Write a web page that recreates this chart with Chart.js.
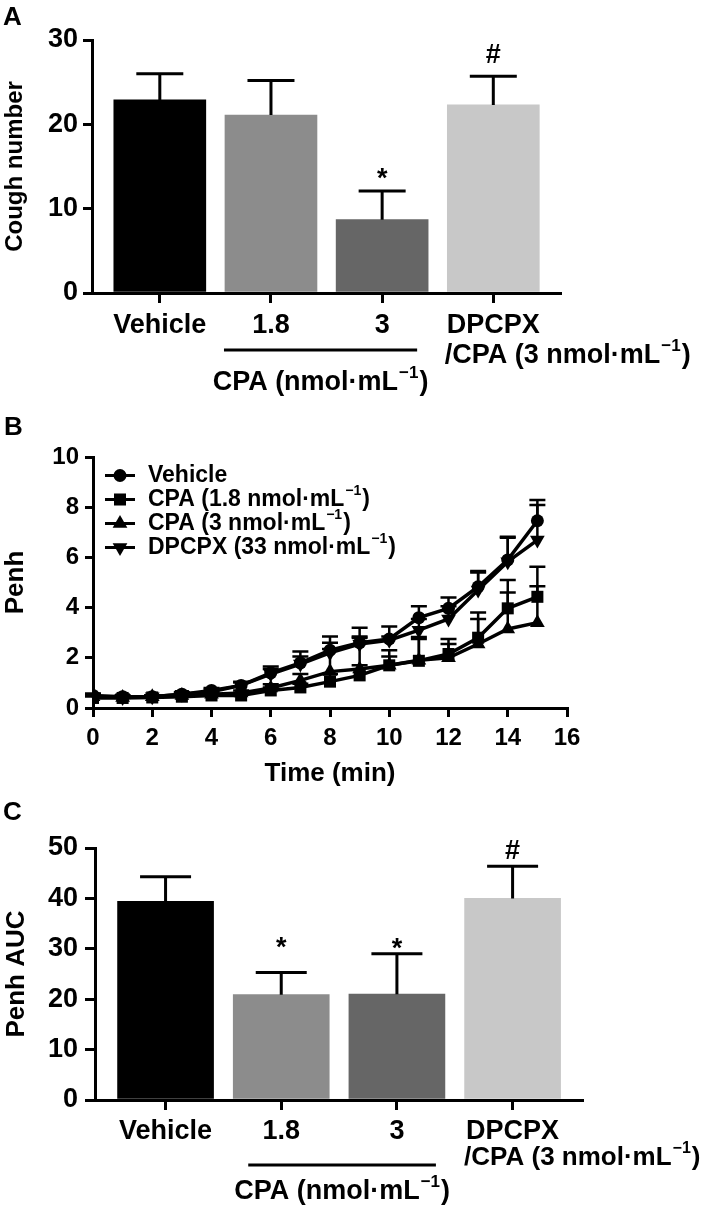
<!DOCTYPE html>
<html>
<head>
<meta charset="utf-8">
<script src="https://cdn.jsdelivr.net/npm/chart.js@4.4.1/dist/chart.umd.min.js"></script>
<style>
  html, body { margin: 0; padding: 0; background: #fff; }
  canvas { position: absolute; left: 0; }
</style>
</head>
<body>
<canvas id="chartA" width="709" height="400" style="top:0"></canvas>
<canvas id="chartB" width="709" height="400" style="top:400px"></canvas>
<canvas id="chartC" width="709" height="425" style="top:800px"></canvas>
<script>
// panel A and C: bar groups
const groups = ['Vehicle', '1.8', '3', 'DPCPX'];
const groupSub = ['', '', '', '/CPA (3 nmol·mL⁻¹)'];
const groupName = 'CPA (nmol·mL⁻¹)';
const barColors = ['#000000', '#8c8c8c', '#666666', '#c8c8c8'];

const coughMean = [22.9, 21.1, 8.7, 22.3];
const coughSem = [3.1, 4.1, 3.4, 3.4];
const coughSig = ['', '', '*', '#'];
const coughSigAt = [null, null, 14.4, 28.4];

const aucMean = [39.4, 20.9, 21.0, 40.0];
const aucSem = [4.9, 4.4, 8.0, 6.4];
const aucSig = ['', '*', '*', '#'];
const aucSigAt = [null, 31.6, 31.5, 49.8];

// panel B: Penh over time
const minutes = [0, 1, 2, 3, 4, 5, 6, 7, 8, 9, 10, 11, 12, 13, 14, 15];
const penhVehicle = [0.50, 0.45, 0.45, 0.55, 0.70, 0.90, 1.40, 1.80, 2.30, 2.60, 2.75, 3.60, 3.97, 4.83, 5.90, 7.46];
const penhVehicleSem = [0.08, 0.06, 0.06, 0.08, 0.10, 0.15, 0.25, 0.45, 0.55, 0.60, 0.50, 0.45, 0.43, 0.63, 0.92, 0.83];
const penhCpaLow = [0.40, 0.40, 0.42, 0.45, 0.50, 0.50, 0.70, 0.82, 1.05, 1.30, 1.70, 1.88, 2.15, 2.80, 3.97, 4.43];
const penhCpaLowSem = [0.06, 0.05, 0.05, 0.06, 0.08, 0.10, 0.12, 0.15, 0.30, 0.40, 0.60, 0.95, 0.60, 1.00, 1.13, 1.20];
const penhCpaHigh = [0.45, 0.42, 0.45, 0.50, 0.55, 0.60, 0.80, 1.10, 1.45, 1.55, 1.70, 1.90, 2.00, 2.55, 3.15, 3.40];
const penhCpaHighSem = [0.06, 0.05, 0.05, 0.06, 0.08, 0.10, 0.15, 0.25, 0.90, 1.25, 0.35, 0.85, 0.55, 1.00, 1.45, 1.45];
const penhDpcpx = [0.45, 0.42, 0.45, 0.55, 0.65, 0.90, 1.35, 1.75, 2.20, 2.55, 2.70, 3.10, 3.55, 4.70, 5.83, 6.69];
const penhDpcpxSem = [0.06, 0.05, 0.05, 0.06, 0.08, 0.12, 0.20, 0.30, 0.40, 0.30, 0.15, 0.45, 0.50, 0.70, 0.95, 1.40];

const FONT = "'Liberation Sans', Arial, sans-serif";
Chart.defaults.font.family = FONT;
Chart.defaults.color = '#000';

function fnt(size) { return 'bold ' + size + 'px ' + FONT; }

// text with "⁻¹" drawn as a real raised superscript
function richWidth(ctx, text, size) {
    const parts = text.split('⁻¹');
    let w = 0;
    parts.forEach((p, k) => {
        ctx.font = fnt(size);
        w += ctx.measureText(p).width;
        if (k < parts.length - 1) {
            ctx.font = fnt(Math.round(size * 0.62));
            w += ctx.measureText('−1').width + 2;
        }
    });
    return w;
}

function drawRich(ctx, text, x, y, size, align) {
    const parts = text.split('⁻¹');
    const supSize = Math.round(size * 0.62);
    let cx = align === 'center' ? x - richWidth(ctx, text, size) / 2 : x;
    ctx.save();
    ctx.fillStyle = '#000';
    ctx.textAlign = 'left';
    ctx.textBaseline = 'middle';
    parts.forEach((p, k) => {
        ctx.font = fnt(size);
        ctx.fillText(p, cx, y);
        cx += ctx.measureText(p).width;
        if (k < parts.length - 1) {
            ctx.font = fnt(supSize);
            ctx.fillText('−1', cx + 1, y - size * 0.36);
            cx += ctx.measureText('−1').width + 2;
        }
    });
    ctx.restore();
}

function drawSig(ctx, mark, x, y, size) {
    ctx.save();
    ctx.font = fnt(size);
    ctx.fillStyle = '#000';
    ctx.textAlign = 'center';
    ctx.textBaseline = 'alphabetic';
    const k = mark === '*' ? 0.58 : 0.36;
    ctx.fillText(mark, x, y + k * size);
    ctx.restore();
}

function axisGrid(tickLength) {
    return {
        display: true, offset: false, drawOnChartArea: false, drawTicks: true,
        tickLength: tickLength, lineWidth: 3, color: '#000'
    };
}
const axisBorder = { display: true, width: 3, color: '#000' };

function barPanel(id, cfg) {
    const el = document.getElementById(id);
    const W = el.width, H = el.height, a = cfg.area;

    const decor = {
        id: 'decor',
        afterDraw(chart) {
            const ctx = chart.ctx, xs = chart.scales.x, ys = chart.scales.y;
            const bottom = chart.chartArea.bottom;
            ctx.save();
            ctx.strokeStyle = '#000';
            ctx.lineWidth = 3;

            // mean + SEM
            cfg.mean.forEach((m, i) => {
                const x = xs.getPixelForValue(i);
                const y0 = ys.getPixelForValue(m);
                const y1 = ys.getPixelForValue(m + cfg.sem[i]);
                ctx.beginPath();
                ctx.moveTo(x, y0);
                ctx.lineTo(x, y1);
                ctx.moveTo(x - cfg.capW / 2, y1);
                ctx.lineTo(x + cfg.capW / 2, y1);
                ctx.stroke();
                if (cfg.sig[i]) drawSig(ctx, cfg.sig[i], x, ys.getPixelForValue(cfg.sigAt[i]), 27);
            });

            // category labels
            groups.forEach((g, i) => {
                const x = xs.getPixelForValue(i);
                drawRich(ctx, g, x, bottom + cfg.labelDy, 27, 'center');
                if (groupSub[i]) {
                    ctx.font = fnt(27);
                    const left = x - ctx.measureText(g).width / 2 - 2;
                    drawRich(ctx, groupSub[i], left, bottom + cfg.subDy, cfg.subSize, 'left');
                }
            });

            // CPA bracket
            const gx0 = xs.getPixelForValue(1) - cfg.lineL;
            const gx1 = xs.getPixelForValue(2) + cfg.lineR;
            ctx.beginPath();
            ctx.moveTo(gx0, bottom + cfg.lineDy);
            ctx.lineTo(gx1, bottom + cfg.lineDy);
            ctx.stroke();
            drawRich(ctx, groupName, (gx0 + gx1) / 2, bottom + cfg.groupDy, 27, 'center');

            ctx.font = fnt(26);
            ctx.fillStyle = '#000';
            ctx.textAlign = 'left';
            ctx.textBaseline = 'alphabetic';
            ctx.fillText(cfg.letter, 3, cfg.letterY);
            ctx.restore();
        }
    };

    return new Chart(el, {
        type: 'bar',
        data: {
            datasets: [{
                data: cfg.mean.map((v, i) => ({ x: i, y: v })),
                backgroundColor: barColors,
                borderWidth: 0,
                barThickness: cfg.barW
            }]
        },
        options: {
            responsive: false,
            animation: false,
            devicePixelRatio: 1,
            layout: { padding: { left: 0, top: a.top, right: W - a.right, bottom: 0 } },
            plugins: { legend: { display: false }, tooltip: { enabled: false } },
            scales: {
                x: {
                    type: 'linear', min: -0.61, max: 3.6, offset: false,
                    afterBuildTicks: s => { s.ticks = groups.map((g, i) => ({ value: i })); },
                    afterFit: s => { s.height = H - a.bottom; },
                    ticks: { display: false },
                    grid: axisGrid(10),
                    border: axisBorder
                },
                y: {
                    min: 0, max: cfg.yMax,
                    afterFit: s => { s.width = a.left; },
                    ticks: { stepSize: cfg.yStep, font: { size: 27, weight: 'bold' }, color: '#000', padding: cfg.tickPad },
                    grid: axisGrid(cfg.yTick),
                    border: axisBorder,
                    title: {
                        display: true, text: cfg.yTitle, color: '#000',
                        font: { size: cfg.titleSize, weight: 'bold' }, padding: { top: 1, bottom: 0 }
                    }
                }
            }
        },
        plugins: [decor]
    });
}

barPanel('chartA', {
    mean: coughMean, sem: coughSem, sig: coughSig, sigAt: coughSigAt,
    area: { left: 92, top: 40, right: 560, bottom: 293 },
    yMax: 30, yStep: 10, yTitle: 'Cough number', titleSize: 24, yTick: 9, tickPad: 5,
    barW: 92, capW: 47, labelDy: 33, subDy: 63, subSize: 27, lineDy: 57, lineL: 47, lineR: 35, groupDy: 90,
    letter: 'A', letterY: 25
});

barPanel('chartC', {
    mean: aucMean, sem: aucSem, sig: aucSig, sigAt: aucSigAt,
    area: { left: 95, top: 48, right: 582, bottom: 300 },
    yMax: 50, yStep: 10, yTitle: 'Penh AUC', titleSize: 26, yTick: 10, tickPad: 7,
    barW: 96, capW: 51, labelDy: 32, subDy: 58, subSize: 26, lineDy: 65, lineL: 33, lineR: 39, groupDy: 92,
    letter: 'C', letterY: 20
});

// panel B
const penhSeries = [
    { label: 'Vehicle', values: penhVehicle, sem: penhVehicleSem, style: 'circle', radius: 6.5, rot: 0 },
    { label: 'CPA (1.8 nmol·mL⁻¹)', values: penhCpaLow, sem: penhCpaLowSem, style: 'rect', radius: 8.5, rot: 0 },
    { label: 'CPA (3 nmol·mL⁻¹)', values: penhCpaHigh, sem: penhCpaHighSem, style: 'triangle', radius: 8.5, rot: 0 },
    { label: 'DPCPX (33 nmol·mL⁻¹)', values: penhDpcpx, sem: penhDpcpxSem, style: 'triangle', radius: 8.5, rot: 180 }
];

function drawMarker(ctx, style, x, y, r, rot) {
    ctx.beginPath();
    if (style === 'circle') {
        ctx.arc(x, y, r, 0, Math.PI * 2);
    } else if (style === 'rect') {
        const s = r * Math.SQRT1_2;
        ctx.rect(x - s, y - s, 2 * s, 2 * s);
    } else {
        let ang = rot * Math.PI / 180;
        ctx.moveTo(x + Math.sin(ang) * r, y - Math.cos(ang) * r);
        ang += 2 * Math.PI / 3;
        ctx.lineTo(x + Math.sin(ang) * r, y - Math.cos(ang) * r);
        ang += 2 * Math.PI / 3;
        ctx.lineTo(x + Math.sin(ang) * r, y - Math.cos(ang) * r);
        ctx.closePath();
    }
    ctx.fill();
}

const penhErrors = {
    id: 'penhErrors',
    beforeDatasetsDraw(chart) {
        const ctx = chart.ctx, xs = chart.scales.x, ys = chart.scales.y;
        ctx.save();
        ctx.strokeStyle = '#000';
        ctx.lineWidth = 2.5;
        penhSeries.forEach(s => {
            s.values.forEach((v, i) => {
                const x = xs.getPixelForValue(minutes[i]);
                const y0 = ys.getPixelForValue(v);
                const y1 = ys.getPixelForValue(v + s.sem[i]);
                ctx.beginPath();
                ctx.moveTo(x, y0);
                ctx.lineTo(x, y1);
                ctx.moveTo(x - 8, y1);
                ctx.lineTo(x + 8, y1);
                ctx.stroke();
            });
        });
        ctx.restore();
    }
};

const penhLegend = {
    id: 'penhLegend',
    afterDraw(chart) {
        const ctx = chart.ctx, area = chart.chartArea;
        const x0 = area.left + 12, y0 = area.top + 18.5;
        ctx.save();
        ctx.strokeStyle = '#000';
        ctx.fillStyle = '#000';
        ctx.lineWidth = 3;
        penhSeries.forEach((s, k) => {
            const y = y0 + k * 24;
            ctx.beginPath();
            ctx.moveTo(x0, y);
            ctx.lineTo(x0 + 30, y);
            ctx.stroke();
            drawMarker(ctx, s.style, x0 + 15, y, s.radius, s.rot);
            drawRich(ctx, s.label, x0 + 43, y, 23, 'left');
        });
        ctx.font = fnt(26);
        ctx.textAlign = 'left';
        ctx.textBaseline = 'alphabetic';
        ctx.fillText('B', 4, 35);
        ctx.restore();
    }
};

new Chart(document.getElementById('chartB'), {
    type: 'line',
    data: {
        datasets: penhSeries.map(s => ({
            label: s.label,
            data: s.values.map((v, i) => ({ x: minutes[i], y: v })),
            borderColor: '#000',
            backgroundColor: '#000',
            borderWidth: 3.5,
            pointStyle: s.style,
            pointRotation: s.rot,
            pointRadius: s.radius,
            pointBorderWidth: 0,
            pointBackgroundColor: '#000',
            tension: 0
        }))
    },
    options: {
        responsive: false,
        animation: false,
        devicePixelRatio: 1,
        layout: { padding: { left: 0, top: 57, right: 709 - 567, bottom: 0 } },
        plugins: { legend: { display: false }, tooltip: { enabled: false } },
        scales: {
            x: {
                type: 'linear', min: 0, max: 16,
                afterFit: s => { s.height = 92; },
                ticks: { stepSize: 2, font: { size: 24, weight: 'bold' }, color: '#000', padding: 7, maxRotation: 0 },
                grid: axisGrid(9),
                border: axisBorder,
                title: {
                    display: true, text: 'Time (min)', color: '#000',
                    font: { size: 26, weight: 'bold' }, padding: { top: 0, bottom: 11 }
                }
            },
            y: {
                min: 0, max: 10,
                afterFit: s => { s.width = 93; },
                ticks: { stepSize: 2, font: { size: 24, weight: 'bold' }, color: '#000', padding: 6 },
                grid: axisGrid(8),
                border: axisBorder,
                title: {
                    display: true, text: 'Penh', color: '#000',
                    font: { size: 26, weight: 'bold' }, padding: { top: 0, bottom: 0 }
                }
            }
        }
    },
    plugins: [penhErrors, penhLegend]
});
</script>
</body>
</html>
